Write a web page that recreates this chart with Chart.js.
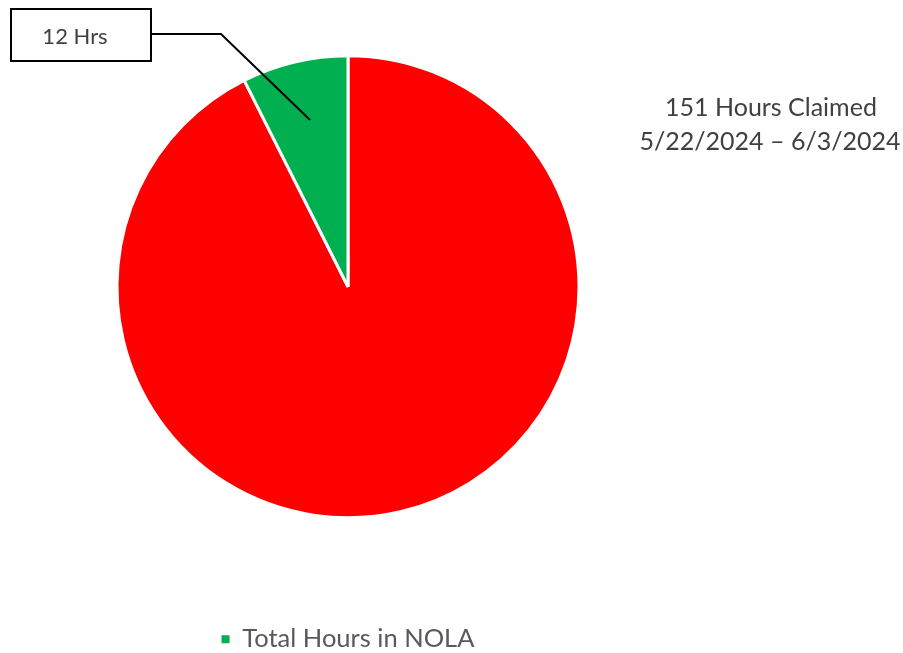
<!DOCTYPE html>
<html>
<head>
<meta charset="utf-8">
<script src="https://cdn.jsdelivr.net/npm/chart.js@4/dist/chart.umd.min.js"></script>
<style>
html,body{margin:0;padding:0;background:#fff;overflow:hidden;width:903px;height:653px;}
#wrap{position:absolute;left:0;top:-45px;width:903px;height:707px;}
</style>
</head>
<body>
<div id="wrap"><canvas id="c" width="903" height="707"></canvas></div>
<script>
const SHIFT = 45;
const categories = ['Other Hours', 'Total Hours in NOLA'];
const hours = [139.8, 11.2];
const sliceColors = ['#FF0000', '#00B050'];
const legendShown = ['Total Hours in NOLA'];
const calloutText = '12 Hrs';
const titleLines = ['151 Hours Claimed', '5/22/2024 \u2013 6/3/2024'];

const annotate = {
  id: 'annotate',
  afterDatasetsDraw(chart) {
    const ctx = chart.ctx;
    const arc = chart.getDatasetMeta(0).data[1];
    const span = arc.endAngle - arc.startAngle;
    const a = arc.startAngle + span * 0.52;
    const r = arc.outerRadius * 0.74;
    const ex = arc.x + Math.cos(a) * r;
    const ey = arc.y + Math.sin(a) * r;
    ctx.save();
    ctx.strokeStyle = '#000';
    ctx.lineWidth = 2;
    ctx.beginPath();
    ctx.moveTo(151, 34 + SHIFT);
    ctx.lineTo(221, 34 + SHIFT);
    ctx.lineTo(ex, ey);
    ctx.stroke();
    ctx.fillStyle = '#fff';
    ctx.fillRect(11, 9 + SHIFT, 140, 52);
    ctx.strokeRect(11, 9 + SHIFT, 140, 52);
    ctx.fillStyle = '#404040';
    ctx.font = '22px Lato';
    ctx.textAlign = 'center';
    ctx.textBaseline = 'middle';
    ctx.fillText(calloutText, 75, 37 + SHIFT);
    ctx.font = '25px Lato';
    ctx.fillText(titleLines[0], 771, 108 + SHIFT);
    ctx.fillText(titleLines[1], 770, 142 + SHIFT);
    ctx.restore();
  }
};

new Chart(document.getElementById('c'), {
  type: 'pie',
  data: {
    labels: categories,
    datasets: [{
      data: hours,
      backgroundColor: sliceColors,
      borderColor: '#ffffff',
      borderWidth: 3,
      radius: 231
    }]
  },
  options: {
    responsive: false,
    animation: false,
    layout: { padding: { left: 0, right: 207, top: 0, bottom: 0 } },
    plugins: {
      tooltip: { enabled: false },
      legend: {
        position: 'bottom',
        labels: {
          generateLabels: (chart) => Chart.overrides.pie.plugins.legend.labels.generateLabels(chart)
            .map(l => Object.assign(l, { lineWidth: 0 })),
          filter: (item) => legendShown.includes(item.text),
          boxWidth: 8,
          boxHeight: 8,
          padding: 8,
          color: '#595959',
          font: { family: 'Lato', size: 25.5 }
        }
      }
    }
  },
  plugins: [annotate]
});
</script>
</body>
</html>
